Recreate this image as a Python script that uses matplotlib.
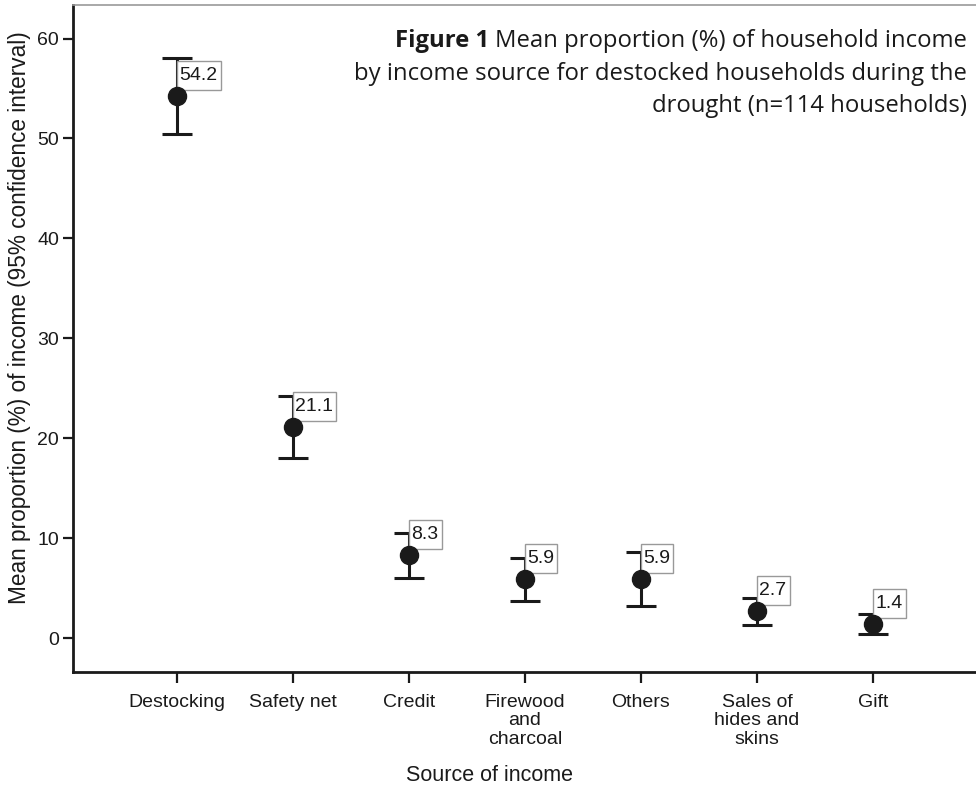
import matplotlib
matplotlib.use("Agg")
import matplotlib.pyplot as plt
from matplotlib.path import Path
import numpy as np

# Income sources and their mean share of household income with 95% CI bounds
categories = ["Destocking", "Safety net", "Credit", "Firewood\nand\ncharcoal",
              "Others", "Sales of\nhides and\nskins", "Gift"]
means = [54.2, 21.1, 8.3, 5.9, 5.9, 2.7, 1.4]
ci_upper = [58.1, 24.2, 10.5, 8.0, 8.6, 4.0, 2.4]
ci_lower = [50.4, 18.0, 6.0, 3.7, 3.2, 1.3, 0.4]
y_ticks = [0, 10, 20, 30, 40, 50, 60]

plt.rcParams["font.family"] = ["Liberation Sans", "DejaVu Sans"]
ink = "#1a1a1a"


def value_box(x0, y0, width, height, mutation_size):
    """Rectangular label frame with more padding above/below than at the sides."""
    px, py = 0.15 * mutation_size, 0.3 * mutation_size
    x1, y1 = x0 - px, y0 - py
    x2, y2 = x0 + width + px, y0 + height + py
    return Path([(x1, y1), (x2, y1), (x2, y2), (x1, y2), (x1, y1)], closed=True)


fig = plt.figure(figsize=(9.76, 7.90), dpi=100)
ax = fig.add_axes([0.0753, 0.1494, 1 - 0.0753, 0.9943 - 0.1494])

x = np.arange(len(categories))
means_a = np.array(means)
yerr = np.vstack([means_a - np.array(ci_lower), np.array(ci_upper) - means_a])

# CI whiskers, then value boxes, then the mean markers on top
ax.errorbar(x, means_a, yerr=yerr, fmt="none", ecolor=ink,
            elinewidth=2.2, capsize=10.5, capthick=2.2, zorder=2)
ax.plot(x, means_a, "o", color=ink, markersize=13, zorder=4)

for xi, m in zip(x, means):
    ax.annotate(f"{m:.1f}", xy=(xi, m), xytext=(1.8, 8.8), textcoords="offset points",
                ha="left", va="bottom", fontsize=14, color=ink,
                bbox=dict(boxstyle=value_box, fc="white", ec="#999999", lw=1.0),
                zorder=3)

ax.set_xlim(-0.892, 6.888)
ax.set_ylim(-3.35, 63.4)
ax.set_xticks(x)
ax.set_xticklabels(categories, fontsize=14, linespacing=1.13, color=ink)
ax.set_yticks(y_ticks)
ax.set_yticklabels([str(v) for v in y_ticks], fontsize=14, color=ink)
ax.tick_params(axis="x", length=8, width=1.6, pad=7.5, color=ink)
ax.tick_params(axis="y", length=7.5, width=1.6, pad=3, color=ink)

for side in ["left", "bottom"]:
    ax.spines[side].set_linewidth(2.0)
    ax.spines[side].set_color(ink)
ax.spines["top"].set_linewidth(1.2)
ax.spines["top"].set_color("#999999")
ax.spines["right"].set_visible(False)

ax.set_ylabel("Mean proportion (%) of income (95% confidence interval)",
              fontsize=16.3, color=ink)
ax.yaxis.set_label_coords(-(73.5 - 20) / 902.5, (672 - 318) / 667.5)
ax.yaxis.label.set_va("center")
ax.set_xlabel("Source of income", fontsize=15.5, color=ink)
ax.xaxis.set_label_coords((490 - 73.5) / 902.5, -(776 - 672) / 667.5)
ax.xaxis.label.set_va("center")

# Figure caption in the upper right corner
title_font = ["Open Sans", "DejaVu Sans"]
tsize = 17.2
lines = ["Mean proportion (%) of household income",
         "by income source for destocked households during the",
         "drought (n=114 households)"]
baselines = [47, 79.5, 112]
for txt, yb in zip(lines, baselines):
    fig.text(967 / 976, 1 - yb / 790, txt, ha="right", va="baseline",
             fontsize=tsize, family=title_font, color=ink)
fig.canvas.draw()
bb = fig.texts[0].get_window_extent(renderer=fig.canvas.get_renderer())
fig.text(bb.x0 / fig.bbox.width - 0.006, 1 - 47 / 790, "Figure 1", ha="right", va="baseline",
         fontsize=tsize, family=title_font, fontweight="bold", color=ink)

fig.savefig("out.png", dpi=100)
